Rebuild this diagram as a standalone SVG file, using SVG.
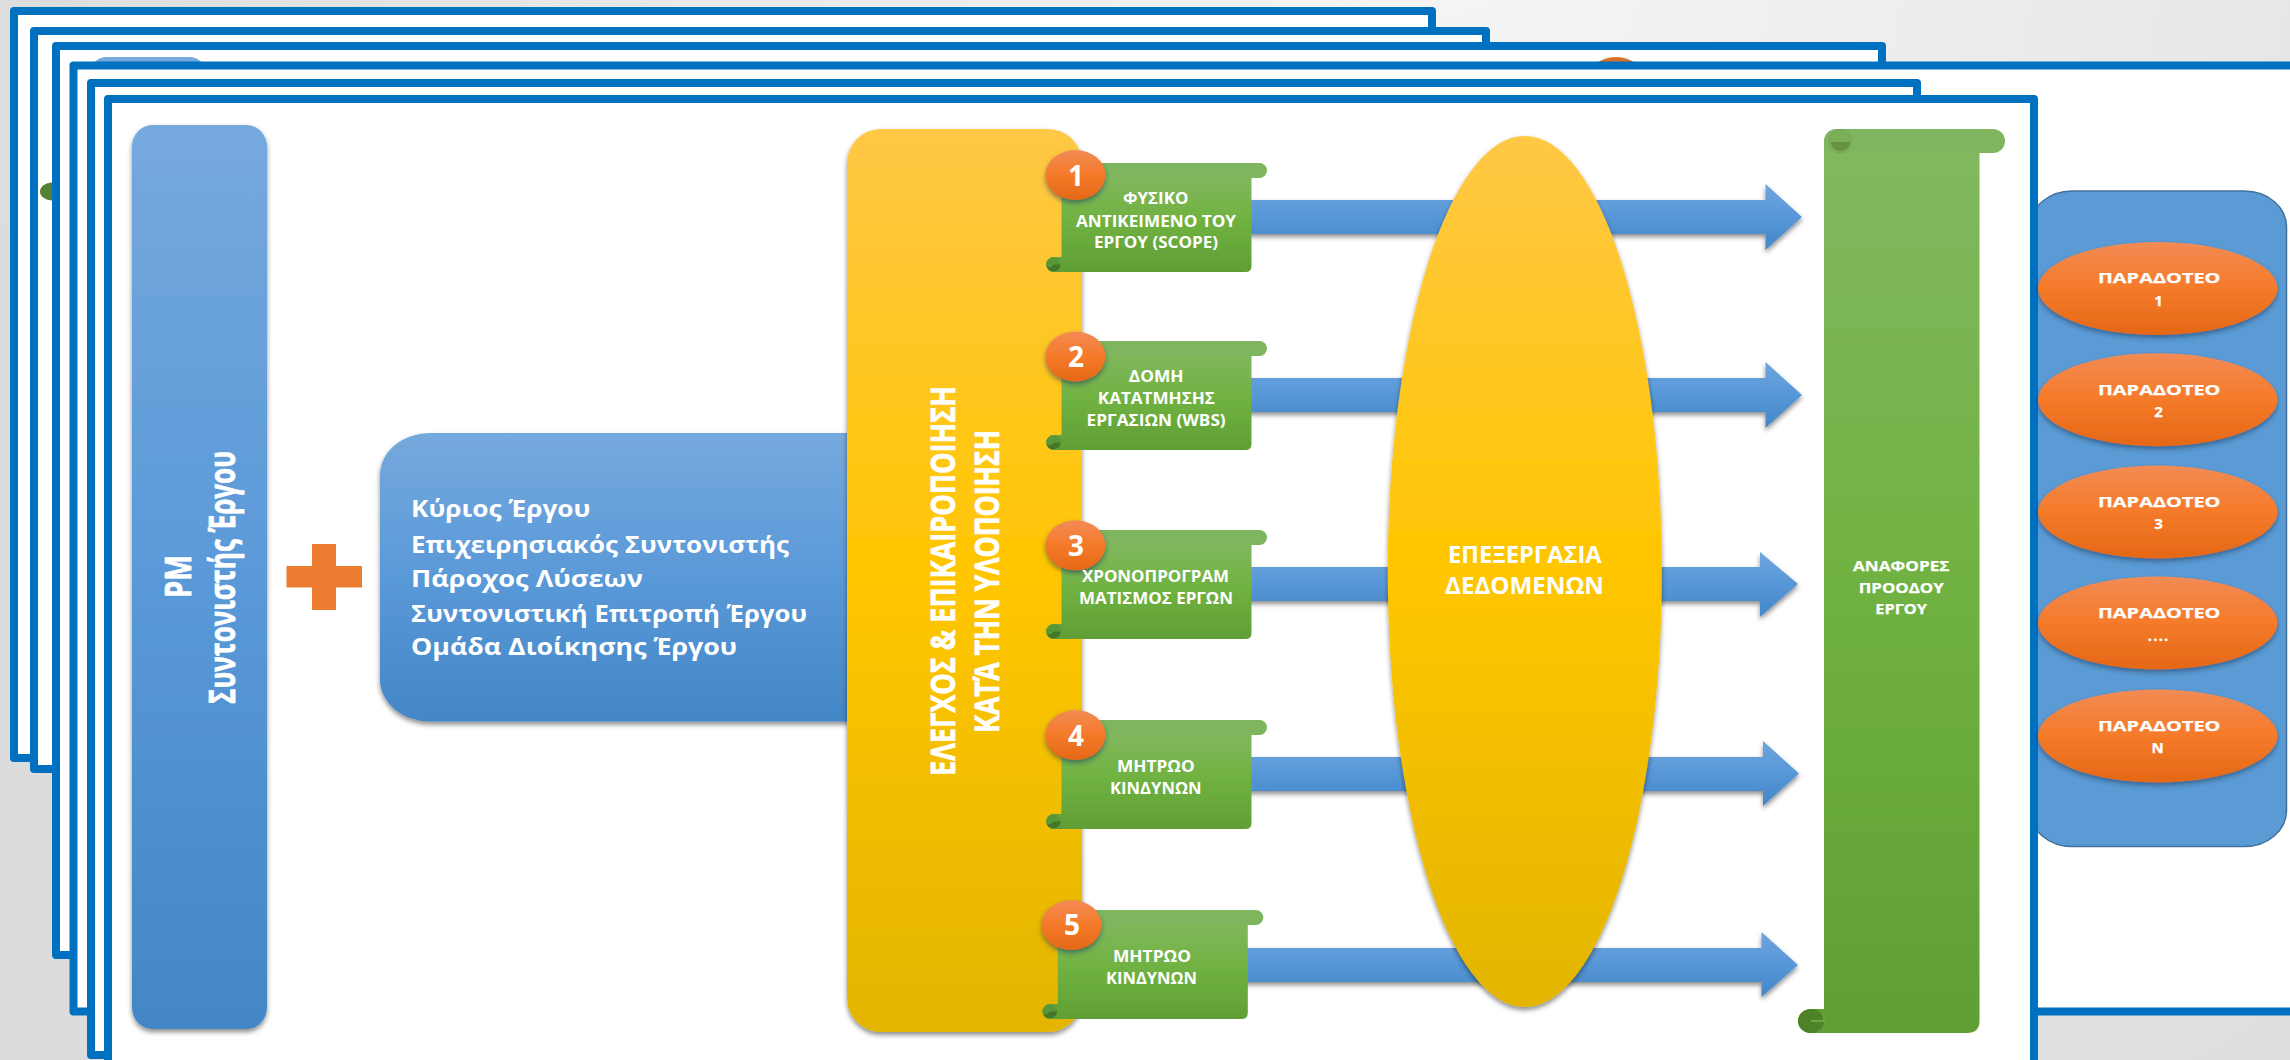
<svg xmlns="http://www.w3.org/2000/svg" xmlns:xlink="http://www.w3.org/1999/xlink" width="2290" height="1060" viewBox="0 0 2290 1060">
<style>
.fr{fill:#fff;stroke:#0070c0;stroke-width:8;stroke-linejoin:round}
.t{fill:#fff;font-family:"Open Sans","Noto Sans","DejaVu Sans",sans-serif;font-weight:700}
.s{font-size:16px;font-weight:700}
.o{font-size:15px;stroke:#fff;stroke-width:.25px}
.n{font-size:28px}
.b{font-size:23px;font-weight:700}
.r{stroke:#fff;stroke-width:.7px}
.shd{filter:url(#sh)}
.arrow{fill:url(#gArrow);filter:url(#sh)}
.oval{fill:url(#gOr);filter:url(#sh2)}
</style>
<defs>
<radialGradient id="gBg" gradientUnits="userSpaceOnUse" cx="1450" cy="-60" r="1500"><stop offset="0" stop-color="#f5f5f5"/><stop offset="1" stop-color="#dcdcdc"/></radialGradient>
<linearGradient id="gBlue" x1="0" y1="0" x2="0" y2="1"><stop offset="0" stop-color="#76a9dd"/><stop offset=".5" stop-color="#5a99d8"/><stop offset="1" stop-color="#4386c6"/></linearGradient>
<linearGradient id="gArrow" x1="0" y1="0" x2="0" y2="1"><stop offset="0" stop-color="#6ea5dd"/><stop offset=".5" stop-color="#5797d8"/><stop offset="1" stop-color="#4386c6"/></linearGradient>
<linearGradient id="gY" x1="0" y1="0" x2="0" y2="1"><stop offset="0" stop-color="#ffc845"/><stop offset=".5" stop-color="#ffc600"/><stop offset="1" stop-color="#e3b500"/></linearGradient>
<linearGradient id="gGr" x1="0" y1="0" x2="0" y2="1"><stop offset="0" stop-color="#82b860"/><stop offset=".5" stop-color="#70b241"/><stop offset="1" stop-color="#5f9e35"/></linearGradient>
<linearGradient id="gOr" x1="0" y1="0" x2="0" y2="1"><stop offset="0" stop-color="#f28b55"/><stop offset=".5" stop-color="#f57a29"/><stop offset="1" stop-color="#e46816"/></linearGradient>
<filter id="sh" x="-10%" y="-10%" width="120%" height="125%"><feDropShadow dx="0" dy="3" stdDeviation="2.5" flood-color="#000" flood-opacity=".45"/></filter>
<filter id="sh2" x="-15%" y="-15%" width="130%" height="140%"><feDropShadow dx="0" dy="3" stdDeviation="2.5" flood-color="#1f3a5a" flood-opacity=".55"/></filter>
<g id="scroll">
<path d="M15.5 8H205.5V103Q205.5 109 199.5 109H7.5a7.5 7.5 0 0 1 0-15H15.5Z" fill="url(#gGr)"/>
<rect x="15.5" y="0" width="205.5" height="15" rx="7.5" fill="#7fb55f"/>
<circle cx="7.5" cy="101.5" r="7.2" fill="#5a9738"/>
<path d="M8 101.5H14.7A7.2 7.2 0 0 1 1 104A7 7 0 0 0 8 101.5Z" fill="#457628"/>
</g>
</defs>
<rect id="background" width="2290" height="1060" fill="url(#gBg)"/>

<g id="frames-back">
<rect class="fr" x="14" y="11" width="1418" height="747"/>
<rect class="fr" x="34" y="31" width="1452" height="738"/>
<ellipse cx="52" cy="191.5" rx="12" ry="9" fill="#548235"/>
<rect class="fr" x="56" y="46" width="1826" height="909"/>
<rect x="89" y="57" width="118" height="60" rx="18" fill="#76a9dd"/>
<ellipse cx="1616" cy="82" rx="30" ry="25" fill="#d9702a"/>
<rect class="fr" x="73.5" y="65.5" width="2300" height="946"/>
<rect class="fr" x="91" y="83" width="1826" height="972"/>
</g>

<g id="deliverables-panel">
<rect x="2030" y="191" width="256.5" height="655.5" rx="42" ry="36" fill="#5b9bd5" stroke="#41719c" stroke-width="1.5"/>
</g>

<g id="frame-front">
<rect class="fr" x="108" y="99" width="1926" height="970"/>
</g>

<g id="pm">
<rect class="shd" x="132" y="125" width="135" height="904" rx="20" ry="22" fill="url(#gBlue)"/>
<text class="t r" font-size="36" x="190.6" y="598" transform="rotate(-90 190.6 598)" textLength="43" lengthAdjust="spacingAndGlyphs">PM</text>
<text class="t r" font-size="36" x="234.7" y="704" transform="rotate(-90 234.7 704)" textLength="253" lengthAdjust="spacingAndGlyphs">Συντονιστής Έργου</text>
</g>

<g id="plus">
<path d="M312 544H336V566H362V587.5H336V610H312V587.5H286.5V566H312Z" fill="#ed7d31"/>
</g>

<g id="stakeholders">
<rect class="shd" x="380" y="433" width="520" height="288.5" rx="50" ry="42" fill="url(#gBlue)"/>
<text class="t b" x="411" y="516.7" textLength="179.5" lengthAdjust="spacingAndGlyphs">Κύριος Έργου</text>
<text class="t b" x="411" y="553" textLength="378" lengthAdjust="spacingAndGlyphs">Επιχειρησιακός Συντονιστής</text>
<text class="t b" x="411" y="586.7" textLength="232" lengthAdjust="spacingAndGlyphs">Πάροχος Λύσεων</text>
<text class="t b" x="411" y="621.7" textLength="396" lengthAdjust="spacingAndGlyphs">Συντονιστική Επιτροπή Έργου</text>
<text class="t b" x="411" y="655" textLength="326" lengthAdjust="spacingAndGlyphs">Ομάδα Διοίκησης Έργου</text>
</g>

<g id="connectors">
<polygon class="arrow" points="1200,200 1765.5,200 1765.5,184 1802,217 1765.5,250 1765.5,234 1200,234"/>
<polygon class="arrow" points="1200,378 1765.5,378 1765.5,362 1802,395 1765.5,428 1765.5,412 1200,412"/>
<polygon class="arrow" points="1200,567 1760,567 1760,552 1798,584 1760,617 1760,601 1200,601"/>
<polygon class="arrow" points="1200,757 1763,757 1763,741 1799,773.5 1763,806 1763,791 1200,791"/>
<polygon class="arrow" points="1200,948 1761.5,948 1761.5,932 1798,965 1761.5,997 1761.5,982 1200,982"/>
</g>

<g id="control">
<rect class="shd" x="847" y="129" width="235" height="903" rx="34" ry="34" fill="url(#gY)"/>
<text class="t r" font-size="34" x="955" y="776" transform="rotate(-90 955 776)" textLength="390" lengthAdjust="spacingAndGlyphs">ΕΛΕΓΧΟΣ &amp; ΕΠΙΚΑΙΡΟΠΟΙΗΣΗ</text>
<text class="t r" font-size="34" x="998.7" y="732.7" transform="rotate(-90 998.7 732.7)" textLength="302.7" lengthAdjust="spacingAndGlyphs">ΚΑΤΆ ΤΗΝ ΥΛΟΠΟΙΗΣΗ</text>
</g>

<g id="processing">
<ellipse class="shd" cx="1524.8" cy="571.5" rx="137" ry="435.5" fill="url(#gY)"/>
<text class="t b" x="1448" y="563.3" textLength="153.7" lengthAdjust="spacingAndGlyphs">ΕΠΕΞΕΡΓΑΣΙΑ</text>
<text class="t b" x="1445" y="594" textLength="159" lengthAdjust="spacingAndGlyphs">ΔΕΔΟΜΕΝΩΝ</text>
</g>

<g id="scope">
<use href="#scroll" xlink:href="#scroll" x="1046" y="163"/>
<ellipse class="oval" cx="1075.4" cy="175" rx="30" ry="25"/>
<text class="t n" x="1076" y="186" text-anchor="middle">1</text>
<text class="t s" x="1123" y="204" textLength="65.4" lengthAdjust="spacingAndGlyphs">ΦΥΣΙΚΟ</text>
<text class="t s" x="1076" y="226.7" textLength="160" lengthAdjust="spacingAndGlyphs">ΑΝΤΙΚΕΙΜΕΝΟ ΤΟΥ</text>
<text class="t s" x="1094" y="247.7" textLength="124" lengthAdjust="spacingAndGlyphs">ΕΡΓΟΥ (SCOPE)</text>
</g>
<g id="wbs">
<use href="#scroll" xlink:href="#scroll" x="1046" y="341"/>
<ellipse class="oval" cx="1075.4" cy="356.5" rx="30" ry="25"/>
<text class="t n" x="1076" y="366.7" text-anchor="middle">2</text>
<text class="t s" x="1128.8" y="382" textLength="54.8" lengthAdjust="spacingAndGlyphs">ΔΟΜΗ</text>
<text class="t s" x="1097.8" y="404.3" textLength="117.2" lengthAdjust="spacingAndGlyphs">ΚΑΤΑΤΜΗΣΗΣ</text>
<text class="t s" x="1086.6" y="425.7" textLength="139.1" lengthAdjust="spacingAndGlyphs">ΕΡΓΑΣΙΩΝ (WBS)</text>
</g>
<g id="schedule">
<use href="#scroll" xlink:href="#scroll" x="1046" y="530"/>
<ellipse class="oval" cx="1075.4" cy="545.3" rx="30" ry="25"/>
<text class="t n" x="1076" y="555.7" text-anchor="middle">3</text>
<text class="t s" x="1082" y="582" textLength="147" lengthAdjust="spacingAndGlyphs">ΧΡΟΝΟΠΡΟΓΡΑΜ</text>
<text class="t s" x="1079" y="604" textLength="154" lengthAdjust="spacingAndGlyphs">ΜΑΤΙΣΜΟΣ ΕΡΓΩΝ</text>
</g>
<g id="risks-a">
<use href="#scroll" xlink:href="#scroll" x="1046" y="720"/>
<ellipse class="oval" cx="1075.4" cy="735" rx="30" ry="25"/>
<text class="t n" x="1076" y="746" text-anchor="middle">4</text>
<text class="t s" x="1117" y="772" textLength="77.7" lengthAdjust="spacingAndGlyphs">ΜΗΤΡΩΟ</text>
<text class="t s" x="1110" y="794" textLength="91.5" lengthAdjust="spacingAndGlyphs">ΚΙΝΔΥΝΩΝ</text>
</g>
<g id="risks-b">
<use href="#scroll" xlink:href="#scroll" x="1042.3" y="910"/>
<ellipse class="oval" cx="1071.5" cy="925" rx="30" ry="25"/>
<text class="t n" x="1072" y="935" text-anchor="middle">5</text>
<text class="t s" x="1113" y="962" textLength="78" lengthAdjust="spacingAndGlyphs">ΜΗΤΡΩΟ</text>
<text class="t s" x="1106" y="984" textLength="91" lengthAdjust="spacingAndGlyphs">ΚΙΝΔΥΝΩΝ</text>
</g>

<g id="reports">
<path d="M1824 141H1979.5V1021Q1979.5 1033 1967 1033H1811a13 12 0 0 1 0-24H1824Z" fill="url(#gGr)"/>
<rect x="1824" y="129" width="181" height="24" rx="12" fill="#7fb55f"/>
<ellipse cx="1840" cy="141" rx="11" ry="11.5" fill="#7aaf58" stroke="#72a650" stroke-width="1"/>
<path d="M1831 142H1850A9.5 9 0 0 1 1831 142Z" fill="#64923e"/>
<ellipse cx="1811" cy="1021" rx="13" ry="12" fill="#4e8229"/>
<path d="M1811 1021H1824V1013" fill="none" stroke="#6ba63f" stroke-width="2"/>
<text class="t o" x="1853" y="570.7" textLength="96.4" lengthAdjust="spacingAndGlyphs">ΑΝΑΦΟΡΕΣ</text>
<text class="t o" x="1858.8" y="592.7" textLength="85" lengthAdjust="spacingAndGlyphs">ΠΡΟΟΔΟΥ</text>
<text class="t o" x="1875.3" y="614" textLength="51.7" lengthAdjust="spacingAndGlyphs">ΕΡΓΟΥ</text>
</g>

<g id="deliverable-1">
<ellipse class="oval" cx="2157.7" cy="288.5" rx="119.7" ry="46.5"/>
<text class="t o" x="2098" y="283.3" textLength="122.5" lengthAdjust="spacingAndGlyphs">ΠΑΡΑΔΟΤΕΟ</text>
<text class="t o" x="2158.5" y="305.7" text-anchor="middle">1</text>
</g>
<g id="deliverable-2">
<ellipse class="oval" cx="2157.7" cy="399.7" rx="119.7" ry="46.5"/>
<text class="t o" x="2098" y="394.7" textLength="122.5" lengthAdjust="spacingAndGlyphs">ΠΑΡΑΔΟΤΕΟ</text>
<text class="t o" x="2158.5" y="416.7" text-anchor="middle">2</text>
</g>
<g id="deliverable-3">
<ellipse class="oval" cx="2157.7" cy="512" rx="119.7" ry="46.5"/>
<text class="t o" x="2098" y="507.3" textLength="122.5" lengthAdjust="spacingAndGlyphs">ΠΑΡΑΔΟΤΕΟ</text>
<text class="t o" x="2158.5" y="528.7" text-anchor="middle">3</text>
</g>
<g id="deliverable-4">
<ellipse class="oval" cx="2157.7" cy="623" rx="119.7" ry="46.5"/>
<text class="t o" x="2098" y="618.3" textLength="122.5" lengthAdjust="spacingAndGlyphs">ΠΑΡΑΔΟΤΕΟ</text>
<text class="t o" x="2147.7" y="640.5" textLength="20.7" lengthAdjust="spacing">....</text>
</g>
<g id="deliverable-n">
<ellipse class="oval" cx="2157.7" cy="736" rx="119.7" ry="46.5"/>
<text class="t o" x="2098" y="730.7" textLength="122.5" lengthAdjust="spacingAndGlyphs">ΠΑΡΑΔΟΤΕΟ</text>
<text class="t o" x="2157.5" y="752.7" text-anchor="middle">Ν</text>
</g>
</svg>
